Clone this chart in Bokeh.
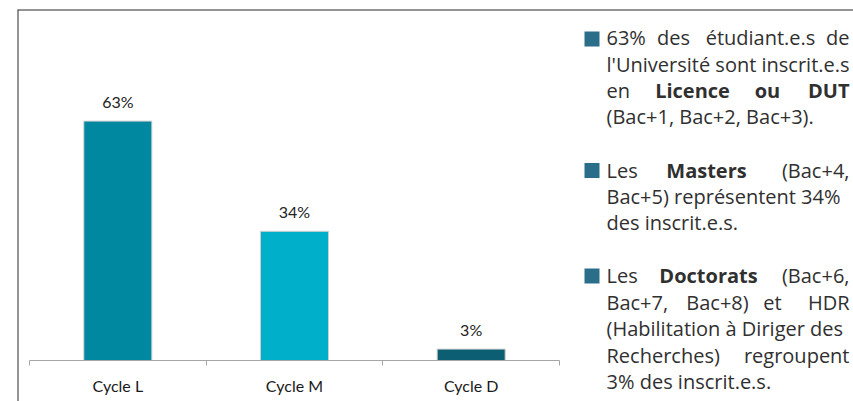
from bokeh.plotting import figure
from bokeh.models import ColumnDataSource, Range1d, LinearAxis, FixedTicker, Span
from bokeh.core.properties import value
from bokeh.embed import file_html
from bokeh.resources import INLINE

# ---------------- data ----------------
categories = ["Cycle L", "Cycle M", "Cycle D"]
shares = [63, 34, 3]
share_labels = ["63%", "34%", "3%"]
bar_colors = ["#0088a0", "#00b0ca", "#0c5f72"]

# ---------------- page geometry (pixels on the page) ----------------
X0_PX = 29.0            # page x of category boundary 0
PX_PER_X = 530.0 / 3    # pixels per category slot
Y0_PX = 360.0           # page y of value 0
PX_PER_Y = 3.8          # pixels per percentage point
W, H = 853, 401
FRAME_L, FRAME_T = 17, 9


def dx(px):
    return (px - X0_PX) / PX_PER_X


def dy(py):
    return (Y0_PX - py) / PX_PER_Y


p = figure(width=W, height=H, output_backend="svg", toolbar_location=None,
           x_axis_location=None, y_axis_location=None,
           x_range=Range1d(dx(FRAME_L), dx(W)), y_range=Range1d(dy(H), dy(FRAME_T)),
           min_border_left=FRAME_L, min_border_right=0, min_border_top=FRAME_T, min_border_bottom=0)
p.grid.visible = False
p.outline_line_color = None
p.background_fill_color = "white"
p.border_fill_color = "white"

# frame lines (top and left)
p.add_layout(Span(location=dy(FRAME_T), dimension="width", line_color="#2b2b2b", line_width=2))
p.add_layout(Span(location=dx(FRAME_L), dimension="height", line_color="#2b2b2b", line_width=2))

# ---------------- bars ----------------
n = len(categories)
centers = [i + 0.5 for i in range(n)]
LABEL_GAP = 20 / PX_PER_Y
src = ColumnDataSource(dict(x=centers, top=shares, color=bar_colors, label=share_labels,
                            label_y=[v + LABEL_GAP for v in shares]))
p.vbar(x="x", top="top", bottom=0, width=0.385, fill_color="color",
       line_color="#d0d0d0", line_width=1, source=src)
p.text(x="x", y="label_y", text="label", text_align="center", text_baseline="middle",
       text_font=value("Lato"), text_font_size="16px", text_color="#222222", source=src)

# ---------------- axis ----------------
ax = LinearAxis(fixed_location=0, bounds=(0, n),
                ticker=FixedTicker(ticks=centers, minor_ticks=list(range(n + 1))),
                major_label_overrides={c: cat for c, cat in zip(centers, categories)})
ax.axis_line_color = "#a6a6a6"
ax.axis_line_width = 1
ax.major_tick_line_color = None
ax.major_tick_out = 0
ax.major_tick_in = 0
ax.minor_tick_line_color = "#a6a6a6"
ax.minor_tick_out = 5
ax.minor_tick_in = 0
ax.major_label_text_font = "Lato"
ax.major_label_text_font_size = "16px"
ax.major_label_text_color = "#1a1a1a"
ax.major_label_standoff = 10
p.add_layout(ax, "below")

# ---------------- right-hand commentary ----------------
L, C, R = "left", "center", "right"
TL, TR = 606, 849
right_lines = [
    (37, [("63%", TL, L, False), ("des", 673, C, False), ("étudiant.e.s", 760, C, False), ("de", TR, R, False)]),
    (63.5, [("l'Université sont inscrit.e.s", TL, L, False)]),
    (90, [("en", TL, L, False), ("Licence", 692, C, True), ("ou", 767, C, True), ("DUT", TR, R, True)]),
    (116, [("(Bac+1, Bac+2, Bac+3).", TL, L, False)]),
    (169.5, [("Les", TL, L, False), ("Masters", 706, C, True), ("(Bac+4,", TR, R, False)]),
    (195.5, [("Bac+5) représentent 34%", TL, L, False)]),
    (221.5, [("des inscrit.e.s.", TL, L, False)]),
    (275, [("Les", TL, L, False), ("Doctorats", 708, C, True), ("(Bac+6,", TR, R, False)]),
    (301.5, [("Bac+7,", TL, L, False), ("Bac+8)", 717, C, False), ("et", 772, C, False), ("HDR", TR, R, False)]),
    (328, [("(Habilitation à Diriger des", TL, L, False)]),
    (354.5, [("Recherches)", TL, L, False), ("regroupent", TR, R, False)]),
    (381, [("3% des inscrit.e.s.", TL, L, False)]),
]
tx, ty, tt, ta, ts = [], [], [], [], []
for mid, words in right_lines:
    for w, px, al, bold in words:
        tx.append(dx(px))
        ty.append(dy(mid))
        tt.append(w)
        ta.append(al)
        ts.append("bold" if bold else "normal")
tsrc = ColumnDataSource(dict(x=tx, y=ty, text=tt, align=ta, style=ts))
p.text(x="x", y="y", text="text", text_align="align", text_font_style="style",
       text_baseline="middle", text_font=value("Open Sans"), text_font_size="20px",
       text_color="#303030", source=tsrc)

# bullet squares
para_mids = [38.5, 170, 275.5]
p.quad(left=[dx(584)] * 3, right=[dx(599)] * 3,
       top=[dy(m - 7.5) for m in para_mids], bottom=[dy(m + 7.5) for m in para_mids],
       fill_color="#2b6e89", line_color=None)

open("out.html", "w").write(file_html(p, INLINE))
